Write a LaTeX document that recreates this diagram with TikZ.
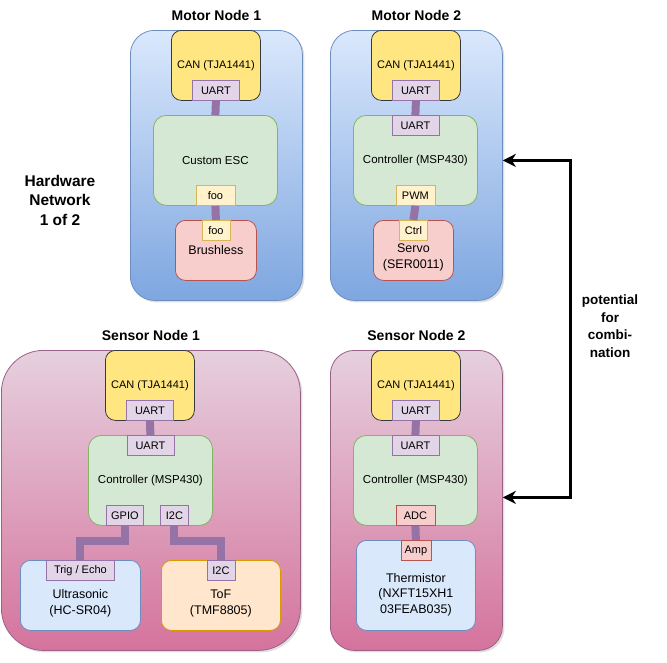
\documentclass[tikz,border=0pt]{standalone}
\usepackage{fontspec}
\setmainfont{Liberation Sans}
\usepackage{tikz}
\usetikzlibrary{arrows.meta, positioning, shadows}
\definecolor{ink}{HTML}{000000}
\definecolor{motortop}{HTML}{DAE8FC}
\definecolor{motorbot}{HTML}{7EA6E0}
\definecolor{motorline}{HTML}{6C8EBF}
\definecolor{sensortop}{HTML}{E6D0DE}
\definecolor{sensorbot}{HTML}{D5739D}
\definecolor{sensorline}{HTML}{996185}
\definecolor{canfill}{HTML}{FFE680}
\definecolor{canline}{HTML}{36393D}
\definecolor{ctlfill}{HTML}{D5E8D4}
\definecolor{ctlline}{HTML}{82B366}
\definecolor{uartfill}{HTML}{E1D5E7}
\definecolor{uartline}{HTML}{9673A6}
\definecolor{foofill}{HTML}{FFF2CC}
\definecolor{fooline}{HTML}{D6B656}
\definecolor{redfill}{HTML}{F8CECC}
\definecolor{redline}{HTML}{B85450}
\definecolor{bluefill}{HTML}{DAE8FC}
\definecolor{blueline}{HTML}{6C8EBF}
\definecolor{orfill}{HTML}{FFE6CC}
\definecolor{orline}{HTML}{D79B00}

\begin{document}
\begin{tikzpicture}[x=1pt, y=-1pt, font=\fontsize{11}{13}\selectfont, text=ink,
    grp/.style={rounded corners=24pt, line width=0.8pt, anchor=north west, inner sep=0pt,
      drop shadow={opacity=0.25, shadow xshift=2pt, shadow yshift=-2pt}},
    motor/.style={grp, draw=motorline, top color=motortop, bottom color=motorbot},
    sensor/.style={grp, draw=sensorline, top color=sensortop, bottom color=sensorbot},
    chip/.style={draw, rounded corners=10pt, line width=0.8pt, anchor=north west, inner sep=0pt, align=center},
    can/.style={chip, draw=canline, fill=canfill, minimum width=89pt, minimum height=70pt},
    ctl/.style={chip, draw=ctlline, fill=ctlfill, minimum width=124pt, minimum height=90pt,
      rounded corners=13pt, font=\fontsize{11.5}{14}\selectfont},
    dev/.style={chip, minimum height=70pt},
    devtxt/.style={align=center, inner sep=0pt, font=\fontsize{12.5}{15.5}\selectfont},
    port/.style={draw, line width=0.8pt, inner sep=0pt, minimum width=#1, minimum height=20pt},
    port/.default=39pt,
    uart/.style={draw=uartline, fill=uartfill},
    foo/.style={draw=fooline, fill=foofill},
    red/.style={draw=redline, fill=redfill},
    bus/.style={draw=uartline, line width=8pt},
    ttl/.style={inner sep=0pt, font=\fontsize{14}{17}\selectfont\bfseries},
    combo/.style={draw=ink, line width=3pt, {Stealth[length=13pt, width=13pt, inset=4pt]}-{Stealth[length=13pt, width=13pt, inset=4pt]}}]
  \useasboundingbox (0,0) rectangle (667,662);

  % Motor Node 1
  \node[motor, minimum width=172pt, minimum height=270pt] (mn1) at (130,30) {};
  \node[ttl, above=9pt of mn1] (mn1t) {Motor Node 1};
  \node[can] (can1) at (171,30) {CAN (TJA1441)};
  \node[port=47pt, uart, anchor=south] (can1u) at (can1.south) {UART};
  \node[ctl] (esc) at (153,115) {Custom ESC};
  \node[port, foo, anchor=south] (escp) at (esc.south) {foo};
  \node[dev, red, minimum width=81pt, minimum height=60pt, font=\fontsize{12.5}{15.5}\selectfont] (bl) at (175,220) {Brushless};
  \node[port=28pt, foo, anchor=north] (blp) at (bl.north) {foo};
  \draw[bus] (can1u.south) -- (esc.north);
  \draw[bus] (escp.south) -- (blp.north);

  % Motor Node 2
  \node[motor, minimum width=172pt, minimum height=270pt] (mn2) at (330,30) {};
  \node[ttl, above=9pt of mn2] (mn2t) {Motor Node 2};
  \node[can] (can2) at (371,30) {CAN (TJA1441)};
  \node[port=47pt, uart, anchor=south] (can2u) at (can2.south) {UART};
  \node[ctl] (ctl2) at (353,115) {Controller (MSP430)};
  \node[port=47pt, uart, anchor=north] (ctl2u) at (ctl2.north) {UART};
  \node[port, foo, anchor=south] (ctl2p) at (ctl2.south) {PWM};
  \node[dev, red, minimum width=80pt, minimum height=60pt] (servo) at (373,220) {};
  \node[devtxt] (servot) at ([yshift=-7pt]servo.center) {Servo\\(SER0011)};
  \node[port=28pt, foo, anchor=north] (servop) at (servo.north) {Ctrl};
  \draw[bus] (can2u.south) -- (ctl2u.north);
  \draw[bus] (ctl2p.south) -- (servop.north);

  % Sensor Node 1
  \node[sensor, rounded corners=42pt, minimum width=299pt, minimum height=300pt] (sn1) at (1,350) {};
  \node[ttl, above=9pt of sn1] (sn1t) {Sensor Node 1};
  \node[can] (can3) at (105,350) {CAN (TJA1441)};
  \node[port=47pt, uart, anchor=south] (can3u) at (can3.south) {UART};
  \node[ctl] (ctl3) at (88,435) {Controller (MSP430)};
  \node[port=47pt, uart, anchor=north] (ctl3u) at (ctl3.north) {UART};
  \node[port=37pt, uart, anchor=south] (ctl3g) at ([xshift=-25.5pt]ctl3.south) {GPIO};
  \node[port=28pt, uart, anchor=south] (ctl3i) at ([xshift=24pt]ctl3.south) {I2C};
  \node[dev, draw=blueline, fill=bluefill, minimum width=120pt] (us) at (20,560) {};
  \node[devtxt] (ust) at ([yshift=-8pt]us.center) {Ultrasonic\\(HC-SR04)};
  \node[port=68pt, uart, anchor=north] (usp) at (us.north) {Trig / Echo};
  \node[dev, draw=orline, fill=orfill, minimum width=119pt] (tof) at (161,560) {};
  \node[devtxt] (toft) at ([yshift=-8pt]tof.center) {ToF\\(TMF8805)};
  \node[port=28pt, uart, anchor=north] (tofp) at (tof.north) {I2C};
  \draw[bus] (can3u.south) -- (ctl3u.north);
  \draw[bus] (ctl3g.south) -- ++(0,15) -| (usp.north);
  \draw[bus] (ctl3i.south) -- ++(0,15) -| (tofp.north);

  % Sensor Node 2
  \node[sensor, minimum width=172pt, minimum height=300pt] (sn2) at (330,350) {};
  \node[ttl, above=9pt of sn2] (sn2t) {Sensor Node 2};
  \node[can] (can4) at (371,350) {CAN (TJA1441)};
  \node[port=47pt, uart, anchor=south] (can4u) at (can4.south) {UART};
  \node[ctl] (ctl4) at (353,435) {Controller (MSP430)};
  \node[port=47pt, uart, anchor=north] (ctl4u) at (ctl4.north) {UART};
  \node[port, red, anchor=south] (ctl4a) at (ctl4.south) {ADC};
  \node[dev, draw=blueline, fill=bluefill, minimum width=119pt, minimum height=90pt] (therm) at (356,540) {};
  \node[devtxt] (thermt) at ([yshift=-9pt]therm.center) {Thermistor\\(NXFT15XH1\\03FEAB035)};
  \node[port=30pt, red, anchor=north] (thermp) at (therm.north) {Amp};
  \draw[bus] (can4u.south) -- (ctl4u.north);
  \draw[bus] (ctl4a.south) -- (thermp.north);

  % merging the two networks
  \draw[combo] ([yshift=5pt]mn2.east) -- ++(68,0) |- ([yshift=3pt]sn2.east);
  \node[inner sep=0pt, align=center, font=\fontsize{13.5}{17.5}\selectfont\bfseries] (combotxt) at (610,326) {potential\\for\\combi-\\nation};
  \node[inner sep=0pt, align=center, font=\fontsize{15.5}{19.5}\selectfont\bfseries] (hw) at (60,200) {Hardware\\Network\\1 of 2};
\end{tikzpicture}
\end{document}
